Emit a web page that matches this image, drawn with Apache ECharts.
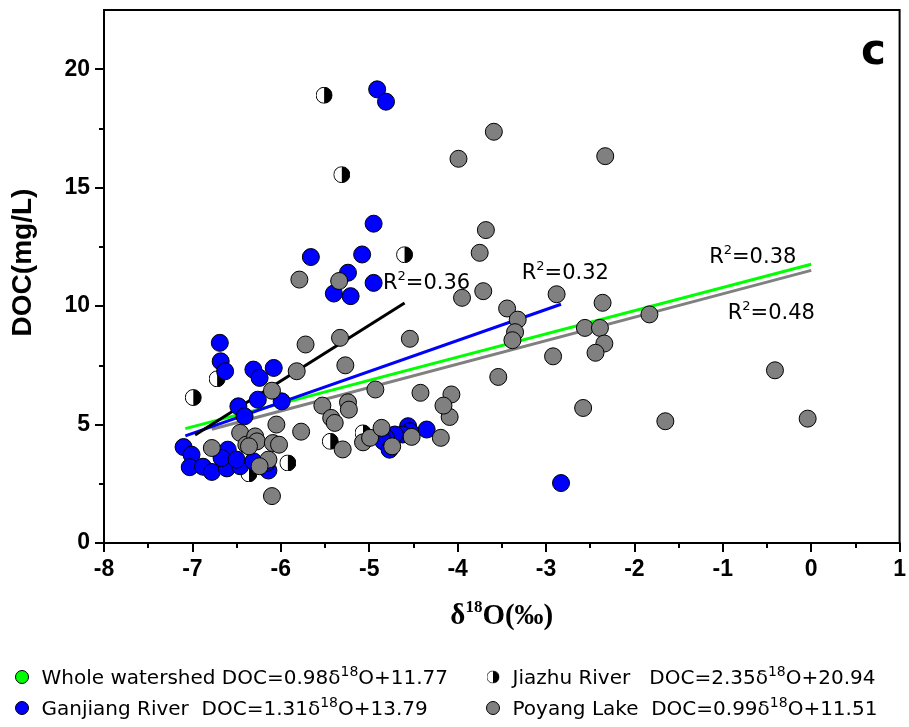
<!DOCTYPE html>
<html><head><meta charset="utf-8">
<script src="https://cdn.jsdelivr.net/npm/echarts@6/dist/echarts.min.js"></script>
<style>html,body{margin:0;padding:0;background:#fff}#c{width:909px;height:727px}</style>
</head><body><div id="c"></div>
<script>
// ---- data ----
const jiazhu = [[-5.51,18.9],[-5.31,15.55],[-4.60,12.17],[-6.99,6.14],[-6.72,6.93],[-5.44,4.29],[-5.92,3.38],[-6.36,2.92],[-5.07,4.65]];
const ganjiang = [
 [-4.91,19.15],[-4.81,18.63],[-4.95,13.48],[-5.66,12.07],[-5.08,12.18],[-5.24,11.41],[-4.95,10.98],[-5.40,10.53],[-5.21,10.42],
 [-6.69,8.45],[-6.68,7.67],[-6.63,7.25],[-6.31,7.32],[-6.24,6.97],[-6.08,7.39],[-6.26,6.05],[-6.48,5.77],[-6.41,5.35],[-5.99,5.98],
 [-7.10,4.05],[-7.01,3.73],[-7.03,3.20],[-6.88,3.22],[-6.78,3.00],[-6.60,3.94],[-6.61,3.15],[-6.46,3.24],[-6.67,3.59],[-6.50,3.52],[-6.31,3.45],[-6.14,3.06],[-6.16,3.38],
 [-4.35,4.79],[-4.56,4.93],[-4.54,4.72],[-4.62,4.58],[-4.71,4.58],[-4.81,4.44],[-4.84,4.29],[-4.77,3.94],
 [-2.83,2.53]];
const poyang = [
 [-3.59,17.36],[-3.99,16.22],[-2.33,16.33],[-3.68,13.21],[-3.75,12.25],[-3.71,10.63],[-3.95,10.35],[-3.44,9.90],[-3.32,9.43],[-3.35,8.90],
 [-3.38,8.56],[-2.88,10.50],[-2.36,10.14],[-1.83,9.65],[-2.56,9.08],[-2.39,9.08],[-2.34,8.42],[-2.44,8.03],[-2.92,7.88],[-3.54,7.01],
 [-0.41,7.29],[-2.58,5.70],[-1.65,5.14],[-0.04,5.25],[-4.07,6.27],[-4.09,5.32],[-5.72,8.38],[-5.33,8.66],[-4.54,8.62],[-5.27,7.50],
 [-5.82,7.25],[-4.93,6.48],[-4.42,6.34],[-4.16,5.80],[-5.53,5.80],[-5.24,5.94],[-5.23,5.63],[-5.43,5.28],[-5.39,5.07],[-5.77,4.70],
 [-5.30,3.95],[-5.07,4.25],[-4.99,4.44],[-4.86,4.86],[-4.74,4.08],[-4.52,4.48],[-4.19,4.44],[-6.10,6.43],[-6.05,5.00],[-6.46,4.65],
 [-6.78,4.01],[-6.39,4.15],[-6.29,4.50],[-6.27,4.29],[-6.36,4.08],[-6.09,4.22],[-6.02,4.15],[-6.14,3.52],[-6.24,3.24],[-6.10,1.98],
 [-5.79,11.12],[-5.34,11.06]];
// regression line endpoints
const fitWhole = [[-7.08,4.83],[0,11.77]];
const fitPoyang = [[-6.78,4.80],[0,11.51]];
const fitGanjiang = [[-7.08,4.52],[-2.83,10.08]];
const fitJiazhu = [[-6.97,4.56],[-4.60,10.13]];
// R² annotations
const r2Labels = [
 {coord:[-4.85,11.0], text:'0.36'},
 {coord:[-3.28,11.42], text:'0.32'},
 {coord:[-1.16,12.1], text:'0.38'},
 {coord:[-0.95,9.73], text:'0.48'}];
const yMajor = [0,5,10,15,20];
const yMinor = [2.5,7.5,12.5,17.5];
const legendText = {
 'Whole watershed': ['Whole watershed DOC=0.98δ','O+11.77'],
 'Ganjiang River': ['Ganjiang River  DOC=1.31δ','O+13.79'],
 'Jiazhu River': ['Jiazhu River   DOC=2.35δ','O+20.94'],
 'Poyang Lake': ['Poyang Lake  DOC=0.99δ','O+11.51']};

const halfSvg = "<svg xmlns='http://www.w3.org/2000/svg' width='34' height='34' viewBox='0 0 34 34'><circle cx='17' cy='17' r='16' fill='white' stroke='black' stroke-width='2'/><path d='M17 1 A16 16 0 0 1 17 33 Z' fill='black'/></svg>";
const halfIcon = 'image://data:image/svg+xml;charset=utf-8,' + encodeURIComponent(halfSvg);

const FONT = "'Liberation Sans', Arial, sans-serif";
const WIDE = "'DejaVu Sans', 'Liberation Sans', sans-serif";
const SERIF = "'Liberation Serif', 'Times New Roman', serif";
const chart = echarts.init(document.getElementById('c'), null, {renderer:'canvas'});

function fitSeries(name, data, color){
  return {name, type:'line', data, z:1, symbol:'none', silent:true,
    lineStyle:{color, width:3}, itemStyle:{color}, animation:false};
}
function scatter(name, data, color, symbol){
  return {name, type:'scatter', data, z:3, symbol: symbol||'circle', symbolSize:17,
    itemStyle:{color, borderColor:'#000', borderWidth:1, opacity:1}, animation:false};
}
const legendCommon = {
  orient:'vertical', itemWidth:13, itemHeight:16, itemGap:7, padding:0, selectedMode:false,
  formatter: n => '{t0|'+legendText[n][0]+'}{s|18}{t|'+legendText[n][1]+'}',
  textStyle:{ rich:{
    t0:{fontFamily:WIDE, fontSize:20, color:'#000', lineHeight:24, verticalAlign:'bottom', padding:[0,0,0,8]},
    t:{fontFamily:WIDE, fontSize:20, color:'#000', lineHeight:24, verticalAlign:'bottom'},
    s:{fontFamily:WIDE, fontSize:14, color:'#000', lineHeight:24, verticalAlign:'top'} } }
};

const r2Series = fitSeries('r2', [], 'transparent');
r2Series.markPoint = {
  symbol:'circle', symbolSize:1, itemStyle:{color:'transparent'}, animation:false,
  label:{show:true, position:'right', distance:0,
    formatter: p => '{a|R}{s|2}{a|='+p.data.value+'}',
    rich:{a:{fontFamily:WIDE, fontSize:21, color:'#000', lineHeight:24, verticalAlign:'bottom'},
          s:{fontFamily:WIDE, fontSize:13, color:'#000', lineHeight:24, verticalAlign:'top'}}},
  data: r2Labels.map(r => ({coord:r.coord, value:r.text}))
};

chart.setOption({
  animation:false,
  backgroundColor:'#fff',
  title:{text:'c', right:23, top:32, padding:0, textStyle:{fontFamily:WIDE, fontWeight:'bold', fontSize:42, color:'#000'}},
  grid:{left:104, right:8, top:10, bottom:184, show:true, borderColor:'#000', borderWidth:2, backgroundColor:'transparent'},
  xAxis:{type:'value', min:-8, max:1, interval:1,
    name:'{d|δ}{s|18}{d|O(‰)}', nameLocation:'middle', nameGap:56,
    nameTextStyle:{rich:{d:{fontFamily:SERIF, fontWeight:'bold', fontSize:29, color:'#000', lineHeight:32, verticalAlign:'bottom'},
                         s:{fontFamily:SERIF, fontWeight:'bold', fontSize:17, color:'#000', lineHeight:32, verticalAlign:'top'}}},
    axisLine:{show:true, onZero:false, lineStyle:{color:'#000', width:2}},
    axisTick:{show:true, inside:false, length:9, lineStyle:{color:'#000', width:2}},
    minorTick:{show:true, splitNumber:2, length:5, lineStyle:{color:'#000', width:2}},
    axisLabel:{fontFamily:FONT, fontWeight:'bold', fontSize:23, color:'#000', margin:15},
    splitLine:{show:false}, minorSplitLine:{show:false}},
  yAxis:[{type:'value', min:0, max:22.5,
    name:'DOC(mg/L)', nameLocation:'middle', nameGap:67, nameRotate:90,
    nameTextStyle:{fontFamily:FONT, fontWeight:'bold', fontSize:28, color:'#000', padding:[0,0,0,28]},
    axisLine:{show:true, onZero:false, lineStyle:{color:'#000', width:2}},
    axisTick:{show:true, inside:false, length:9, customValues:yMajor, lineStyle:{color:'#000', width:2}},
    axisLabel:{fontFamily:FONT, fontWeight:'bold', fontSize:23, color:'#000', margin:14, customValues:yMajor},
    splitLine:{show:false}},
   {type:'value', min:0, max:22.5, position:'left', offset:0,
    axisLine:{show:false, onZero:false},
    axisTick:{show:true, inside:false, length:5, customValues:yMinor, lineStyle:{color:'#000', width:2}},
    axisLabel:{show:false}, splitLine:{show:false}}],
  legend:[
    Object.assign({left:15, top:665, data:[
      {name:'Whole watershed', icon:'circle', itemStyle:{color:'#00ff00', borderColor:'#000', borderWidth:1}},
      {name:'Ganjiang River', icon:'circle', itemStyle:{color:'#0000ff', borderColor:'#000', borderWidth:1}}]}, legendCommon),
    Object.assign({left:486, top:665, data:[
      {name:'Jiazhu River', icon:halfIcon},
      {name:'Poyang Lake', icon:'circle', itemStyle:{color:'#808080', borderColor:'#000', borderWidth:1}}]}, legendCommon)
  ],
  series:[
    fitSeries('Whole watershed', fitWhole, '#00ff00'),
    fitSeries('Poyang fit', fitPoyang, '#808080'),
    fitSeries('Ganjiang fit', fitGanjiang, '#0000ff'),
    fitSeries('Jiazhu fit', fitJiazhu, '#000000'),
    scatter('Jiazhu River', jiazhu, '#ffffff', halfIcon),
    scatter('Ganjiang River', ganjiang, '#0000ff'),
    scatter('Poyang Lake', poyang, '#808080'),
    r2Series
  ]
});
</script>
</body></html>
